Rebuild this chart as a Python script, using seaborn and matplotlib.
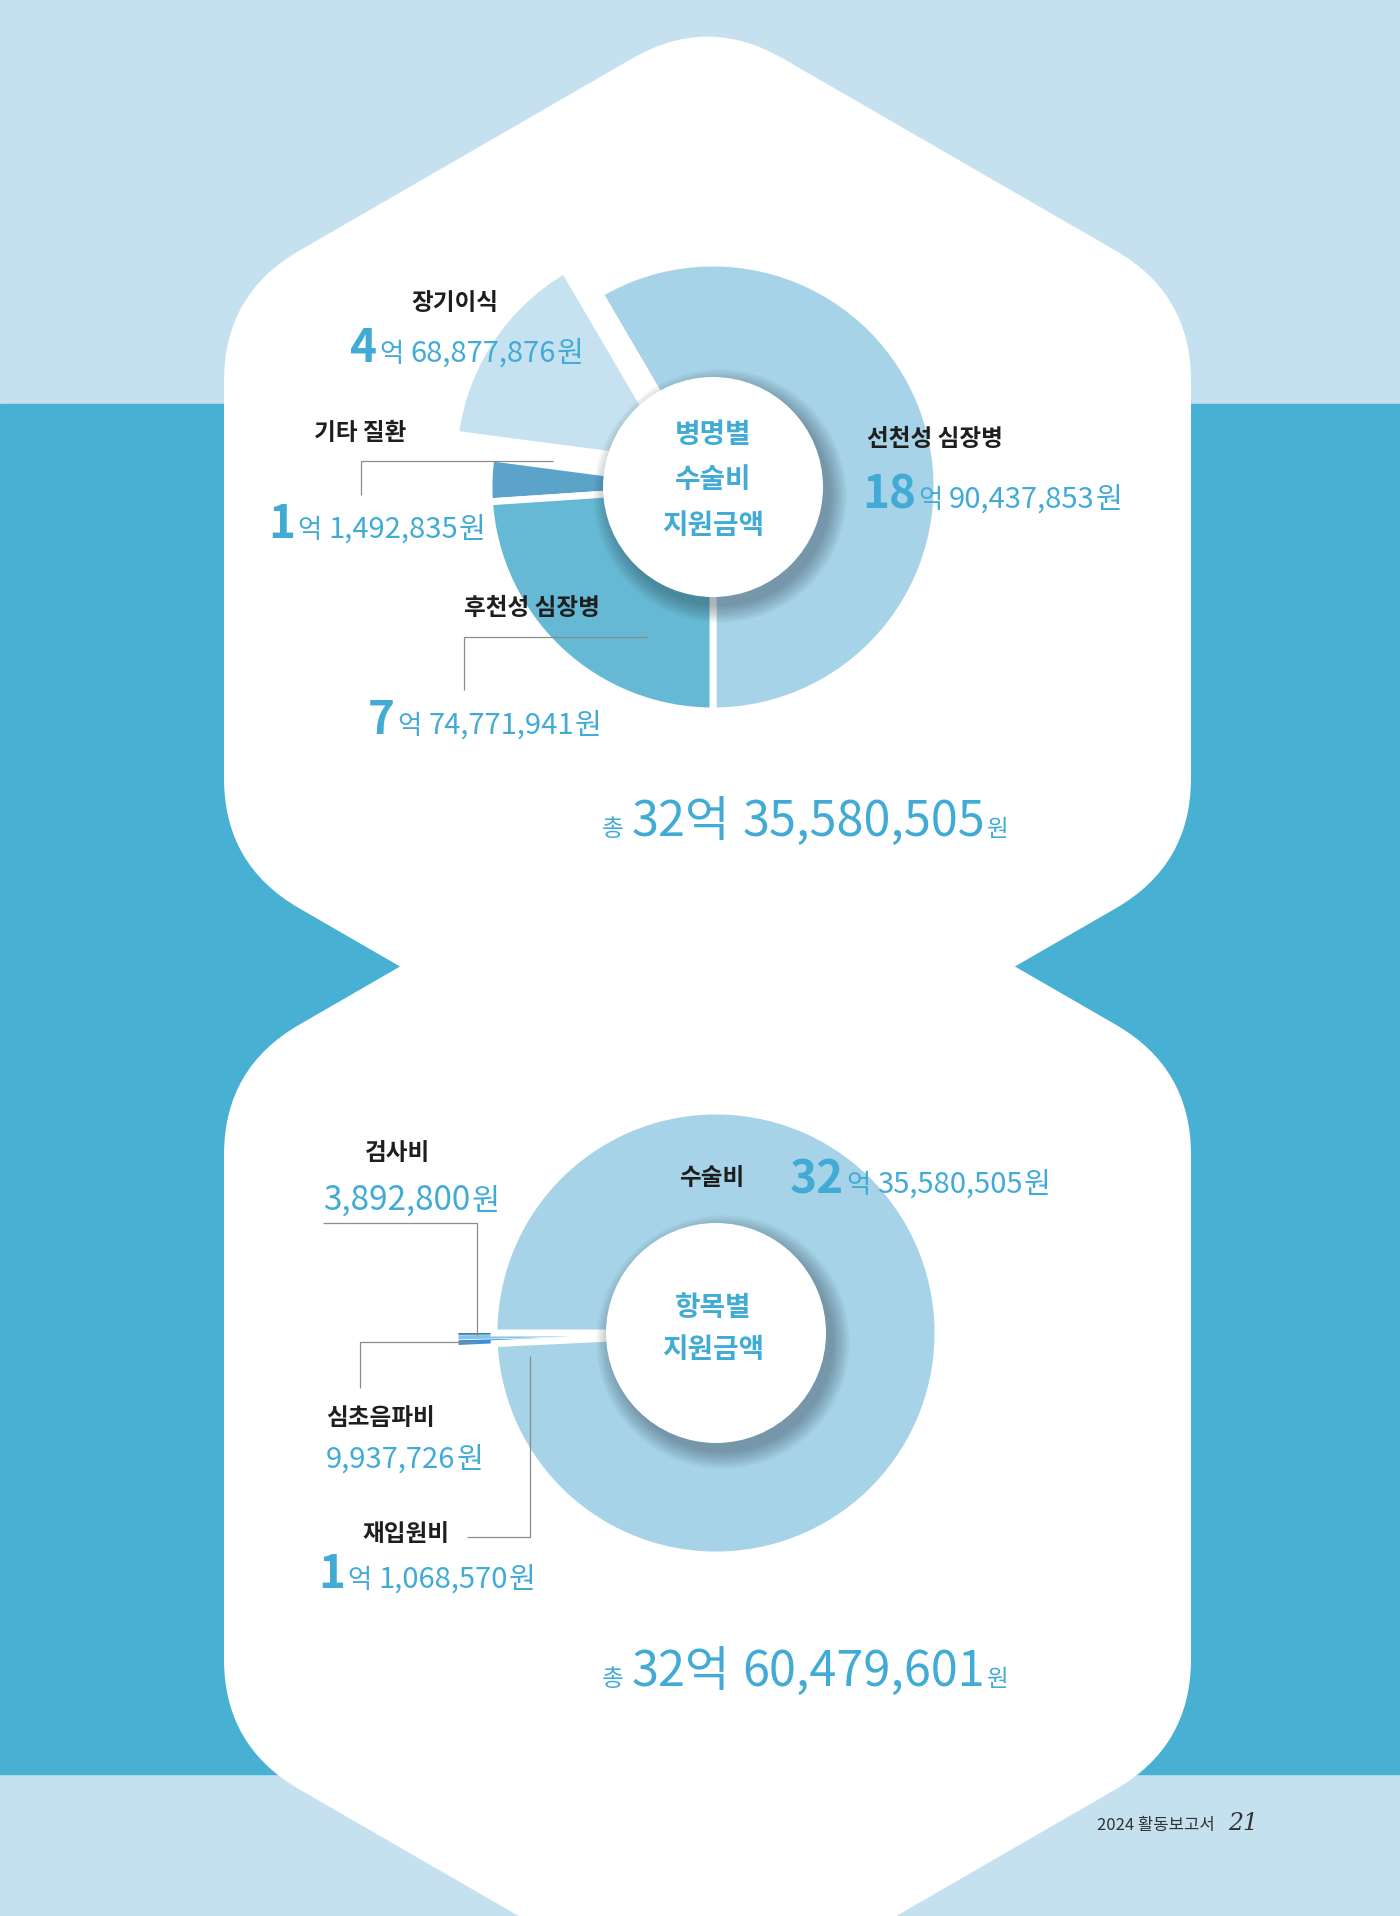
import matplotlib
matplotlib.use("Agg")
import matplotlib.pyplot as plt
from matplotlib.path import Path
from matplotlib.patches import PathPatch, Rectangle, Circle
import seaborn as sns
import numpy as np

W, H = 1400, 1916
DPI = 100

# 병명별 수술비 지원금액 (won)
disease_names = ["선천성 심장병", "장기이식", "기타 질환", "후천성 심장병"]
disease_amounts = [1890437853, 468877876, 101492835, 774771941]
disease_big = ["18", "4", "1", "7"]
disease_rest = ["90,437,853", "68,877,876", "1,492,835", "74,771,941"]
disease_colors = ["#a6d3e7", "#c6e2f0", "#5ba3c9", "#66b9d4"]
disease_explode = [0, 0.19, 0, 0]
disease_total = "35,580,505"

# 항목별 지원금액 (won) - 재입원비 slice follows the printed total
item_names = ["검사비", "심초음파비", "재입원비", "수술비"]
item_amounts = [3892800, 9937726, 11068570, 3235580505]
item_colors = ["#2b6d7d", "#7fc6ef", "#3b8fd8", "#a6d3e7"]
item_explode = [0.16, 0.16, 0.16, 0]
item_total = "60,479,601"

BLUE = "#41abd6"
BLACK = "#1e1e1e"
GREY = "#8c8c8c"

sns.set_theme(style="white")
plt.rcParams["font.family"] = ["Noto Sans CJK KR", "DejaVu Sans"]

fig = plt.figure(figsize=(W / DPI, H / DPI), dpi=DPI)


def rounded_poly(pts, rc):
    verts, codes = [], []
    n = len(pts)
    for i in range(n):
        p0, p1, p2 = np.array(pts[i - 1]), np.array(pts[i]), np.array(pts[(i + 1) % n])
        v1 = (p0 - p1) / np.linalg.norm(p0 - p1)
        v2 = (p2 - p1) / np.linalg.norm(p2 - p1)
        ang = np.arccos(np.clip(np.dot(v1, v2), -1, 1))
        t = rc / np.tan(ang / 2)
        verts += [p1 + v1 * t, p1, p1 + v2 * t]
        codes += [Path.LINETO if i else Path.MOVETO, Path.CURVE3, Path.CURVE3]
    verts.append(verts[0])
    codes.append(Path.CLOSEPOLY)
    return Path(verts, codes)


def hexagon(cx, top, bottom, hw, rc=150):
    s = hw * np.tan(np.radians(30))
    pts = [(cx, top), (cx + hw, top + s), (cx + hw, bottom - s),
           (cx, bottom), (cx - hw, bottom - s), (cx - hw, top + s)]
    return PathPatch(rounded_poly(pts, rc), facecolor="white", edgecolor="none")


# background
bg = fig.add_axes([0, 0, 1, 1])
bg.set_xlim(0, W)
bg.set_ylim(H, 0)
bg.axis("off")
bg.add_patch(Rectangle((0, 0), W, H, color="#c5e1ef"))
bg.add_patch(Rectangle((0, 404), W, 1370, color="#47b0d3"))
bg.add_patch(hexagon(707.5, 15, 1144, 483.5))
bg.add_patch(hexagon(707.5, 789, 2025, 483.5))


def donut(cx, cy, r_px, values, colors, explode, startangle, edge_idx):
    half = 360
    ax = fig.add_axes([(cx - half) / W, (H - cy - half) / H, 2 * half / W, 2 * half / H])
    wedges, _ = ax.pie(values, colors=colors, explode=explode, startangle=startangle,
                       counterclock=True, radius=1.0,
                       wedgeprops=dict(edgecolor="white", linewidth=5))
    for i, w in enumerate(wedges):
        if i not in edge_idx:
            w.set_linewidth(0)
    lim = half / r_px
    ax.set_xlim(-lim, lim)
    ax.set_ylim(-lim, lim)
    ax.set_aspect("equal")
    ax.axis("off")
    r_in = 110 / r_px
    for k in range(14):
        ax.add_patch(Circle((7 / r_px, -9 / r_px), r_in + k * 1.3 / r_px,
                            color="#2c3e4a", alpha=0.032, lw=0))
    ax.add_patch(Circle((0, 0), r_in, color="white", lw=0))
    return ax


donut(713, 487, 224, disease_amounts, disease_colors, disease_explode, -90, [0, 1, 2, 3])
donut(716, 1333, 222, item_amounts, item_colors, item_explode, 180, [3])

# overlay for text and leader lines
ov = fig.add_axes([0, 0, 1, 1])
ov.set_xlim(0, W)
ov.set_ylim(H, 0)
ov.axis("off")
ov.patch.set_alpha(0)
renderer = fig.canvas.get_renderer()


def rich(x, y, parts):
    for s, size, weight, gap in parts:
        t = ov.text(x, y, s, fontsize=size, fontweight=weight, color=BLUE,
                    va="baseline", ha="left")
        x += t.get_window_extent(renderer).width + gap


def label(x, y, s, size=17):
    ov.text(x, y, s, fontsize=size, fontweight="bold", color=BLACK, ha="center", va="center")


def amount(x, y, big, rest, small=21):
    parts = []
    if big:
        parts += [(big, 33, "bold", 2), ("억", 19, "medium", 7)]
    parts += [(rest, small, "medium", 1), ("원", small, "light", 0)]
    rich(x, y, parts)


def leader(xs, ys):
    ov.plot(xs, ys, color=GREY, lw=0.9, solid_capstyle="butt")


# top chart labels
label(935, 439, disease_names[0])
amount(862, 508, disease_big[0], disease_rest[0])
label(455, 303, disease_names[1])
amount(350, 362, disease_big[1], disease_rest[1])
label(360, 433, disease_names[2])
amount(268, 538, disease_big[2], disease_rest[2])
label(532, 608, disease_names[3])
amount(368, 734, disease_big[3], disease_rest[3])
leader([361, 361, 553], [495, 461, 461])
leader([464, 464, 647], [690, 637, 637])

for s, y in zip(["병명별", "수술비", "지원금액"], [435, 480, 526]):
    ov.text(713, y, s, fontsize=20, fontweight="bold", color=BLUE, ha="center", va="center")

rich(602, 836, [("총", 17, "light", 8), ("32억", 35, "medium", 12),
                (disease_total, 35, "medium", 2), ("원", 17, "light", 0)])

# bottom chart labels
label(398, 1153, item_names[0])
rich(323, 1210, [("3,892,800", 24, "medium", 1), ("원", 22, "light", 0)])
label(380, 1418, item_names[1])
rich(326, 1468, [("9,937,726", 21, "medium", 1), ("원", 21, "light", 0)])
label(406, 1534, item_names[2])
amount(318, 1588, "1", "1,068,570")
label(712, 1178, item_names[3])
amount(790, 1193, "32", "35,580,505")
leader([323, 477, 477], [1223, 1223, 1336])
leader([360, 360, 477], [1388, 1342, 1342])
leader([467, 530, 530], [1537, 1537, 1356])

for s, y in zip(["항목별", "지원금액"], [1308, 1350]):
    ov.text(713, y, s, fontsize=20, fontweight="bold", color=BLUE, ha="center", va="center")

rich(602, 1686, [("총", 17, "light", 8), ("32억", 35, "medium", 12),
                 (item_total, 35, "medium", 2), ("원", 17, "light", 0)])

# footer
ov.text(1215, 1830, "2024 활동보고서", fontsize=12, color="#333333", ha="right", va="baseline")
ov.text(1228, 1830, "21", fontsize=17, color="#333333", ha="left", va="baseline",
        family="DejaVu Serif", style="italic")

fig.savefig("out.png", dpi=DPI)
plt.close(fig)
